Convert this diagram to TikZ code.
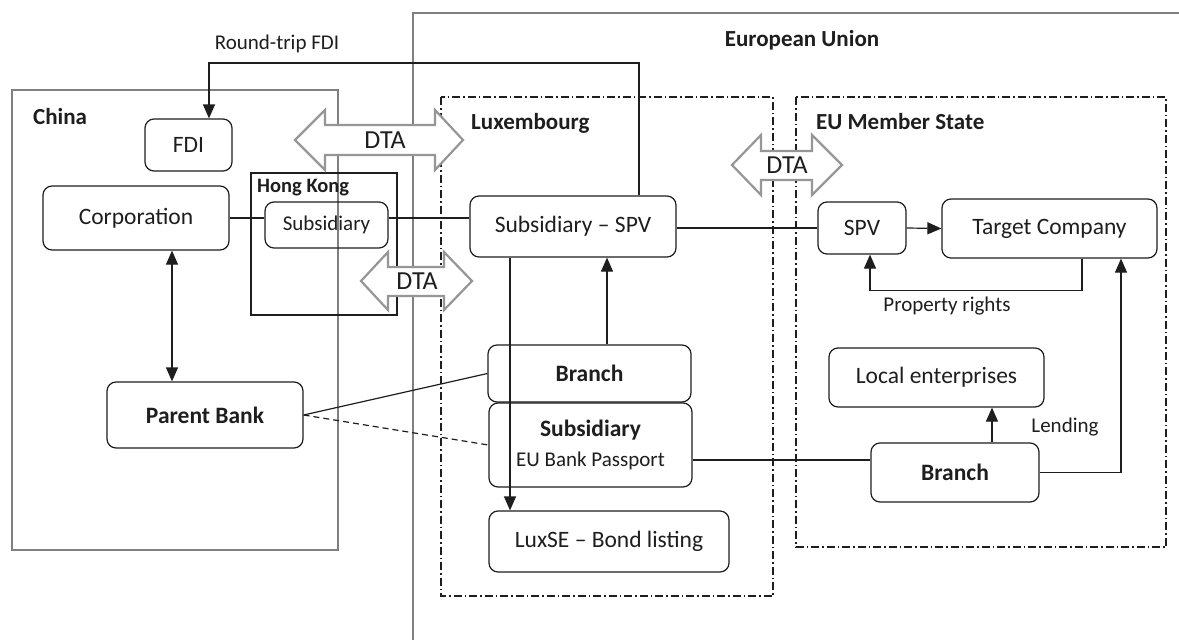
\documentclass[tikz,border=0pt]{standalone}
\usepackage{fontspec}
\setmainfont{Carlito}
\usetikzlibrary{arrows.meta}
\definecolor{regiongray}{RGB}{128,128,128}
\definecolor{dtagray}{RGB}{150,150,150}
\definecolor{ink}{RGB}{30,30,30}
\begin{document}
\begin{tikzpicture}[x=1pt,y=-1pt,
  region/.style={draw=regiongray, line width=2.2pt},
  hkregion/.style={draw=ink, line width=1.3pt},
  dashregion/.style={draw=ink, line width=1.1pt, dash pattern=on 8pt off 3pt on 1.5pt off 3pt},
  dtashape/.style={draw=dtagray, line width=2.2pt, fill=white, line join=miter},
  dtatext/.style={font=\fontsize{26}{30}\selectfont, text=ink, inner sep=0pt},
  box/.style={draw=ink, line width=1.2pt, rounded corners=9pt, inner sep=0pt, align=center,
    font=\fontsize{23.5}{28}\selectfont, text=ink},
  smallbox/.style={box, font=\fontsize{21}{25}\selectfont},
  regionlabel/.style={font=\fontsize{23}{27}\selectfont\bfseries, text=ink, inner sep=0pt, anchor=west},
  smalllabel/.style={font=\fontsize{21}{25}\selectfont, text=ink, inner sep=0pt},
  conn/.style={draw=ink, line width=1.2pt},
  arr/.style={conn, -{Triangle[length=14pt,width=12pt]}},
  darr/.style={conn, {Triangle[length=14pt,width=12pt]}-{Triangle[length=14pt,width=12pt]}}
]
\useasboundingbox (0,0) rectangle (1179,640);
\fill[white] (0,0) rectangle (1179,640);

% regions
\draw[region] (413,641) -- (413,13) -- (1180,13);
\draw[region] (12,90) rectangle (338,550);
\draw[hkregion] (251,173) rectangle (397,315);
\draw[dashregion] (441,97) rectangle (773,596);
\draw[dashregion] (796,97) rectangle (1166,547);

% region labels
\node[font=\fontsize{23}{27}\selectfont\bfseries, text=ink, inner sep=0pt] (eulabel) at (802,40) {European Union};
\node[regionlabel] (chinalabel) at (33,117) {China};
\node[regionlabel, font=\fontsize{20.5}{25}\selectfont\bfseries] (hklabel) at (257,188) {Hong Kong};
\node[regionlabel] (luxlabel) at (471,123) {Luxembourg};
\node[regionlabel] (mslabel) at (816,122) {EU Member State};

% DTA double arrows
\draw[dtashape] (295,140) -- (325,110) -- (325,125) -- (435,125) -- (435,110) -- (463,140)
  -- (435,170) -- (435,155) -- (325,155) -- (325,170) -- cycle;
\node[dtatext] (dta1) at (385,140) {DTA};
\draw[dtashape] (361,281) -- (388,252) -- (388,267) -- (444,267) -- (444,252) -- (472,281)
  -- (444,310) -- (444,296) -- (388,296) -- (388,310) -- cycle;
\node[dtatext] (dta2) at (417,281) {DTA};
\draw[dtashape] (732,165) -- (761,135) -- (761,151) -- (812,151) -- (812,135) -- (842,165)
  -- (812,195) -- (812,180) -- (761,180) -- (761,195) -- cycle;
\node[dtatext] (dta3) at (787,165) {DTA};

% nodes
\node[box, minimum width=87pt, minimum height=52pt] (fdi) at (188.5,145) {FDI};
\node[box, minimum width=186pt, minimum height=64pt] (corp) at (136,218) {Corporation};
\node[smallbox, minimum width=123pt, minimum height=46pt] (hksub) at (326.5,225) {Subsidiary};
\node[box, minimum width=206pt, minimum height=61pt] (spvlux) at (573,226.5) {Subsidiary -- SPV};
\node[box, minimum width=88pt, minimum height=52pt] (spveu) at (862,228) {SPV};
\node[box, minimum width=215pt, minimum height=59pt] (target) at (1049.5,228.5) {Target Company};
\node[box, minimum width=215pt, minimum height=59pt] (local) at (936.5,377.5) {Local enterprises};
\node[box, minimum width=168pt, minimum height=59pt, font=\fontsize{23.5}{28}\selectfont\bfseries] (brancheu) at (955,472.5) {Branch};
\node[box, minimum width=203pt, minimum height=57pt, font=\fontsize{23.5}{28}\selectfont\bfseries] (branchlux) at (589.5,373.5) {Branch};
\node[box, minimum width=203pt, minimum height=84pt, font=\fontsize{23.5}{30}\selectfont] (sublux) at (590.5,445)
  {\textbf{Subsidiary}\\{\fontsize{21}{25}\selectfont EU Bank Passport}};
\node[box, minimum width=240pt, minimum height=61pt] (luxse) at (609,541.5) {LuxSE -- Bond listing};
\node[box, minimum width=196pt, minimum height=66pt, font=\fontsize{23.5}{28}\selectfont\bfseries] (parent) at (205,415) {Parent Bank};

% labels
\node[smalllabel] (rtlabel) at (277,44) {Round-trip FDI};
\node[smalllabel] (prlabel) at (947,306) {Property rights};
\node[smalllabel] (lendlabel) at (1065,427) {Lending};

% connectors
\coordinate (rt) at (209,63);
\draw[arr] ([xshift=66pt]spvlux.north) |- (rt) -- (rt |- fdi.north);
\coordinate (cpx) at (172,0);
\draw[darr] (corp.south -| cpx) -- (parent.north -| cpx);
\draw[conn] (corp.east) -- (corp.east -| hksub.west);
\draw[conn] (corp.east -| hksub.east) -- (corp.east -| spvlux.west);
\draw[conn] (spvlux.east |- spveu.west) -- (spveu.west);
\draw[arr] (spveu.east) -- (target.west);
\draw[arr] ([xshift=32.5pt]target.south) -- ++(0,32) -| ([xshift=8pt]spveu.south);
\draw[arr] (brancheu.east) -| ([xshift=71.5pt]target.south);
\draw[arr] ([xshift=37pt]brancheu.north) coordinate (lendfoot) -- (lendfoot |- local.south);
\draw[conn] ([yshift=-15pt]sublux.east) coordinate (passfoot) -- (passfoot -| brancheu.west);
\draw[arr] ([xshift=17.5pt]branchlux.north) coordinate (brfoot) -- (brfoot |- spvlux.south);
\draw[arr] ([xshift=-63pt]spvlux.south) coordinate (bondtop) -- (bondtop |- luxse.north);
\draw[conn] (parent.east) -- (branchlux.west);
\draw[conn, dash pattern=on 6pt off 4pt] (parent.east) -- (sublux.west);
\end{tikzpicture}
\end{document}
